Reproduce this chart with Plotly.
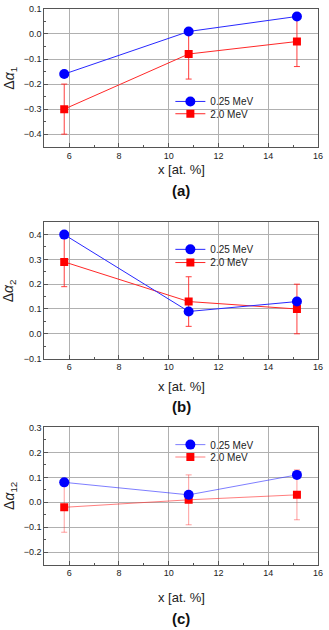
import plotly.graph_objects as go

x_vals = [5.8, 10.8, 15.15]

a_low = [-0.16, 0.01, 0.07]
a_high = [-0.30, -0.08, -0.03]
b_low = [0.40, 0.09, 0.13]
b_high = [0.29, 0.13, 0.10]
c_low = [0.08, 0.03, 0.11]
c_high = [-0.02, 0.01, 0.03]
err_high = [0.1, 0.1, 0.1]

series_names = ["0.25 MeV", "2.0 MeV"]
y_titles = ["Δ<i>α</i><sub>1</sub>", "Δ<i>α</i><sub>2</sub>", "Δ<i>α</i><sub>12</sub>"]
panel_labels = ["(a)", "(b)", "(c)"]
x_title = "x [at. %]"
y_ranges = [[-0.45, 0.1], [-0.1, 0.45], [-0.25, 0.3]]

W, H = 329, 630
FONT = "Liberation Sans, Arial, sans-serif"

# pixel layout of panels (top, bottom)
panels_px = [(4, 144), (220.7, 359.3), (429.3, 568.7)]
xl, xr = 45, 323
legend_x = 173
legend_rows = [(98, 110.5), (248.3, 261.7), (446.7, 459.3)]
xtitle_px = [167, 387.7, 601.7]
label_px = [188, 408, 623]

fig = go.Figure()
data = [(a_low, a_high), (b_low, b_high), (c_low, c_high)]
line_alpha = [1.0, 1.0, 0.6]

for i, (lo, hi) in enumerate(data):
    xa = "x" if i == 0 else f"x{i+1}"
    ya = "y" if i == 0 else f"y{i+1}"
    lg_lo = "legend" if i == 0 else f"legend{2*i+1}"
    lg_hi = f"legend{2*i+2}"
    fig.add_trace(go.Scatter(
        x=x_vals, y=hi, name=series_names[1], mode="lines+markers",
        line=dict(color=f"rgba(255,40,40,{line_alpha[i]})", width=1),
        marker=dict(symbol="square", size=8, color="#ff0000"),
        error_y=dict(type="data", array=err_high, visible=True,
                     color=f"rgba(255,40,40,{0.9 if i < 2 else 0.45})", thickness=1, width=3),
        xaxis=xa, yaxis=ya, legend=lg_hi,
    ))
    fig.add_trace(go.Scatter(
        x=x_vals, y=lo, name=series_names[0], mode="lines+markers",
        line=dict(color=f"rgba(40,40,255,{line_alpha[i]})", width=1),
        marker=dict(symbol="circle", size=10, color="#0000ff"),
        xaxis=xa, yaxis=ya, legend=lg_lo,
    ))

layout = dict(
    width=W, height=H, margin=dict(l=0, r=0, t=0, b=0),
    paper_bgcolor="white", plot_bgcolor="white",
    font=dict(family=FONT, size=9, color="#222"),
    showlegend=True,
)

annotations = []
for i in range(3):
    top, bot = panels_px[i]
    suf = "" if i == 0 else str(i + 1)
    layout[f"xaxis{suf}"] = dict(
        domain=[xl / W, xr / W], range=[5, 16], anchor=f"y{suf}",
        tickvals=[6, 8, 10, 12, 14, 16], ticks="inside", ticklen=4,
        showgrid=True, gridcolor="#b0b0b0", gridwidth=1,
        showline=True, linecolor="#555", linewidth=1, mirror=True,
        zeroline=False, tickfont=dict(size=9, family=FONT, color="#222"),
        minor=dict(dtick=1, ticks="inside", ticklen=2, showgrid=False, tickcolor="#555"),
        tickcolor="#555",
    )
    layout[f"yaxis{suf}"] = dict(
        domain=[1 - bot / H, 1 - top / H], range=y_ranges[i], anchor=f"x{suf}",
        dtick=0.1, tick0=0, tickformat=".1f", ticks="inside", ticklen=4,
        showgrid=True, gridcolor="#b0b0b0", gridwidth=1,
        showline=True, linecolor="#555", linewidth=1, mirror=True,
        zeroline=False, tickfont=dict(size=9, family=FONT, color="#222"),
        minor=dict(dtick=0.05, ticks="inside", ticklen=2, showgrid=False, tickcolor="#555"),
        tickcolor="#555",
    )
    for j, name in enumerate(["legend" if i == 0 else f"legend{2*i+1}", f"legend{2*i+2}"]):
        layout[name] = dict(
            x=legend_x / W, y=1 - legend_rows[i][j] / H, xanchor="left", yanchor="middle",
            bgcolor="rgba(0,0,0,0)", font=dict(size=10, family=FONT, color="#222"),
            tracegroupgap=0, itemwidth=30,
        )
    annotations.append(dict(
        text=y_titles[i], x=10 / W, y=1 - ((top + bot) / 2) / H, xref="paper", yref="paper",
        textangle=-90, showarrow=False, font=dict(size=14, family=FONT, color="#222"),
        xanchor="center", yanchor="middle",
    ))
    annotations.append(dict(
        text=x_title, x=((xl + xr) / 2) / W, y=1 - xtitle_px[i] / H, xref="paper", yref="paper",
        showarrow=False, font=dict(size=13, family=FONT, color="#222"),
        xanchor="center", yanchor="middle",
    ))
    annotations.append(dict(
        text=f"<b>{panel_labels[i]}</b>", x=((xl + xr) / 2) / W, y=1 - label_px[i] / H,
        xref="paper", yref="paper", showarrow=False,
        font=dict(size=15, family=FONT, color="#111"), xanchor="center", yanchor="middle",
    ))

layout["annotations"] = annotations
fig.update_layout(**layout)
fig.write_html(
    "out.html",
    config={"displayModeBar": False},
    post_script="document.body.style.margin='0';document.body.style.overflow='hidden';",
)
